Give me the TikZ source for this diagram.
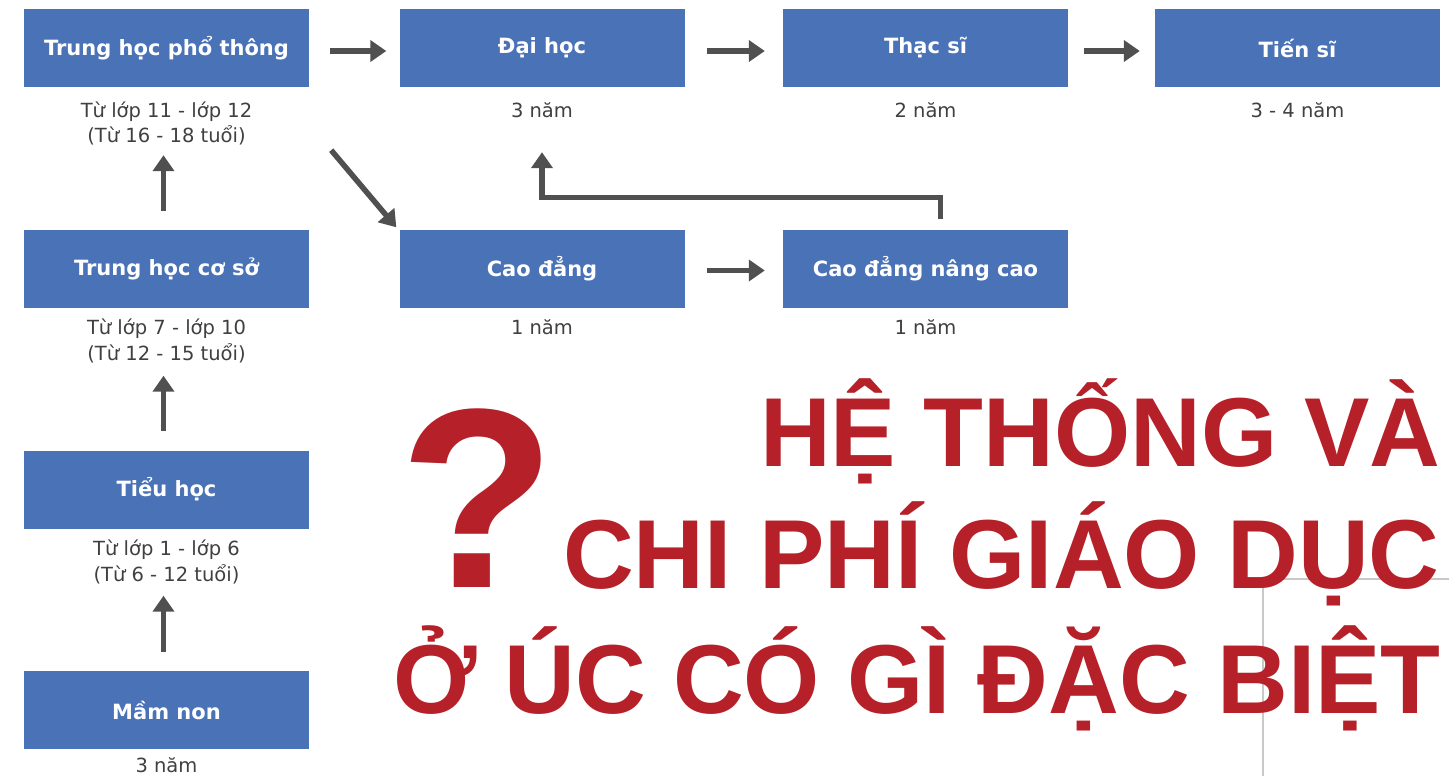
\documentclass[tikz,border=0pt]{standalone}
\usepackage{fontspec}
\setmainfont{DejaVu Sans}
\newfontfamily\titlefont{Liberation Sans}
\usetikzlibrary{arrows.meta}
\definecolor{boxblue}{RGB}{74,114,182}
\definecolor{titlered}{RGB}{181,32,41}
\definecolor{arrgray}{RGB}{80,80,80}
\definecolor{labelgray}{RGB}{64,64,64}
\definecolor{thingray}{RGB}{200,200,200}
\begin{document}
\begin{tikzpicture}[x=1pt,y=-1pt,
  stagebox/.style={rectangle, fill=boxblue, draw=none, minimum width=285pt, minimum height=78pt, inner sep=0pt,
    text=white, font=\bfseries\fontsize{21}{21}\selectfont},
  sublabel/.style={text=labelgray, font=\fontsize{19.5}{19.5}\selectfont, inner sep=0pt, anchor=base},
  arr/.style={draw=arrgray, line width=5.5pt, -{Triangle[length=16pt,width=21pt]}},
  titleline/.style={text=titlered, inner sep=0pt, anchor=base east, font=\titlefont\bfseries\fontsize{98}{98}\selectfont}
]
\fill[white] (0,0) rectangle (1449,776);
\useasboundingbox (0,0) rectangle (1449,776);

% thin gray lines (behind the title)
\coordinate (g1) at (1263,776);
\coordinate (g2) at (1263,579);
\coordinate (g3) at (1449,579);
\draw[thingray, line width=1.5pt] (g1) -- (g2) -- (g3);

% boxes
\node[stagebox] (thpt) at (166.5,48) {Trung học phổ thông};
\node[stagebox] (dh) at (542,48) {Đại học};
\node[stagebox] (ts) at (925.5,48) {Thạc sĩ};
\node[stagebox] (tis) at (1297.5,48) {Tiến sĩ};
\node[stagebox] (thcs) at (166.5,268.5) {Trung học cơ sở};
\node[stagebox] (cd) at (542,268.5) {Cao đẳng};
\node[stagebox] (cdnc) at (925.5,268.5) {Cao đẳng nâng cao};
\node[stagebox] (th) at (166.5,489.5) {Tiểu học};
\node[stagebox] (mn) at (166.5,710) {Mầm non};

% labels
\node[sublabel] (l1a) at ([yshift=-30pt]thpt.south) {Từ lớp 11 - lớp 12};
\node[sublabel] (l1b) at ([yshift=-55pt]thpt.south) {(Từ 16 - 18 tuổi)};
\node[sublabel] (l2) at ([yshift=-30pt]dh.south) {3 năm};
\node[sublabel] (l3) at ([yshift=-30pt]ts.south) {2 năm};
\node[sublabel] (l4) at ([yshift=-30pt]tis.south) {3 - 4 năm};
\node[sublabel] (l5a) at ([yshift=-27pt]thcs.south) {Từ lớp 7 - lớp 10};
\node[sublabel] (l5b) at ([yshift=-53pt]thcs.south) {(Từ 12 - 15 tuổi)};
\node[sublabel] (l6) at ([yshift=-27pt]cd.south) {1 năm};
\node[sublabel] (l7) at ([yshift=-27pt]cdnc.south) {1 năm};
\node[sublabel] (l8a) at ([yshift=-27pt]th.south) {Từ lớp 1 - lớp 6};
\node[sublabel] (l8b) at ([yshift=-53pt]th.south) {(Từ 6 - 12 tuổi)};
\node[sublabel] (l9) at ([yshift=-23pt]mn.south) {3 năm};

% horizontal arrows
\draw[arr, shorten <=21pt, shorten >=13pt] ([yshift=-3pt]thpt.east) -- ([yshift=-3pt]dh.west);
\draw[arr, shorten <=22pt, shorten >=18pt] ([yshift=-3pt]dh.east) -- ([yshift=-3pt]ts.west);
\draw[arr, shorten <=16pt, shorten >=15pt] ([yshift=-3pt]ts.east) -- ([yshift=-3pt]tis.west);
\draw[arr, shorten <=22pt, shorten >=18pt] ([yshift=-2pt]cd.east) -- ([yshift=-2pt]cdnc.west);

% vertical arrows
\draw[arr, shorten <=18pt, shorten >=68pt] ([xshift=-3pt]thcs.north) -- ([xshift=-3pt]thpt.south);
\draw[arr, shorten <=19pt, shorten >=68pt] ([xshift=-3pt]th.north) -- ([xshift=-3pt]thcs.south);
\draw[arr, shorten <=19pt, shorten >=67pt] ([xshift=-3pt]mn.north) -- ([xshift=-3pt]th.south);

% diagonal arrow
\draw[arr] ([xshift=22pt,yshift=-63pt]thpt.south east) -- ([xshift=-3pt,yshift=2pt]cd.north west);

% elbow arrow
\draw[arr] ([xshift=15pt,yshift=10pt]cdnc.north) -- ++(0,-22) -| ([yshift=-65pt]dh.south);

% title
\node[inner sep=0pt, anchor=base, text=titlered, font=\titlefont\bfseries\fontsize{256}{256}\selectfont] (q) at (478,587) {?};
\node[titleline] (t1) at (1441,466) {HỆ THỐNG VÀ};
\node[titleline] (t2) at (1440,588) {CHI PHÍ GIÁO DỤC};
\node[titleline] (t3) at (1441,713) {Ở ÚC CÓ GÌ ĐẶC BIỆT};
\end{tikzpicture}
\end{document}
